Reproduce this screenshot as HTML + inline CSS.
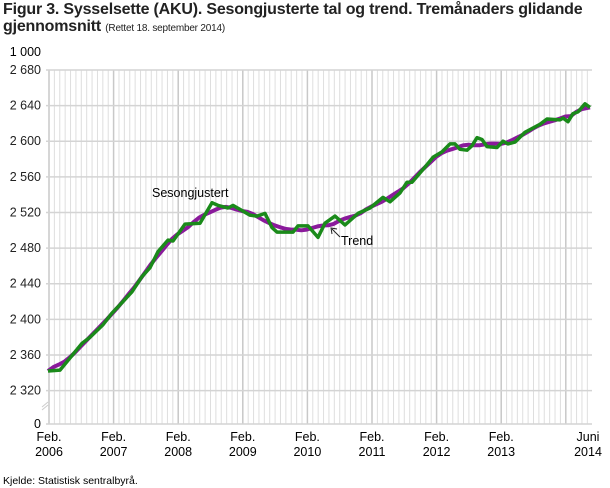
<!DOCTYPE html>
<html><head><meta charset="utf-8"><style>
body{margin:0;background:#fff;width:610px;height:488px;overflow:hidden;font-family:"Liberation Sans",sans-serif;color:#222}
.t{position:absolute;left:3px;top:1px;font-size:16px;font-weight:bold;color:#222;line-height:17px;letter-spacing:-0.2px}
.t small{font-size:10px;font-weight:normal}
</style></head><body>
<div class="t">Figur 3. Sysselsette (AKU). Sesongjusterte tal og trend. Tremånaders glidande<br>gjennomsnitt <small>(Rettet 18. september 2014)</small></div>
<svg id="s" width="610" height="488" style="position:absolute;left:0;top:0" font-family="Liberation Sans, sans-serif"></svg>
<script>
const s=document.getElementById('s');let h='';
const X0=49,DX=64.6/12;
const Y=v=>70+(2680-v)*0.8906;
for(let i=0;i<=101;i++){const x=X0+i*DX;if(x>592)break;const maj=i%12==0;
h+=`<line x1="${x}" y1="70" x2="${x}" y2="424" stroke="${maj?'#c8c8c8':'#dedede'}" stroke-width="${maj?1.5:1}"/>`;}
for(let v=2320;v<=2680;v+=40){h+=`<line x1="46" y1="${Y(v)}" x2="592" y2="${Y(v)}" stroke="#d4d4d4" stroke-width="1.5"/>`;
h+=`<text x="41" y="${Y(v)+4}" font-size="12.5" text-anchor="end" fill="#222">${String(v).replace(/(\d)(\d{3})$/,'$1 $2')}</text>`;}
h+=`<line x1="46" y1="424" x2="592" y2="424" stroke="#d4d4d4" stroke-width="1.5"/>`;
h+=`<text x="41" y="428" font-size="12.5" text-anchor="end">0</text><text x="41" y="56" font-size="12.5" text-anchor="end">1 000</text>`;
h+=`<line x1="42" y1="407" x2="48" y2="402" stroke="#ccc"/><line x1="42" y1="410" x2="48" y2="405" stroke="#ccc"/>`;
[2006,2007,2008,2009,2010,2011,2012,2013].forEach((y,k)=>{const x=X0+k*64.6;h+=`<text x="${x}" y="441" font-size="12.5" text-anchor="middle">Feb.</text><text x="${x}" y="456" font-size="12.5" text-anchor="middle">${y}</text>`;});
h+=`<text x="588" y="441" font-size="12.5" text-anchor="middle">Juni</text><text x="588" y="456" font-size="12.5" text-anchor="middle">2014</text>`;
h+=`<text x="3" y="484" font-size="10.5">Kjelde: Statistisk sentralbyrå.</text>`;
const g=[[48,2342],[60,2343],[82,2373],[90,2380],[103,2394],[112,2407],[118,2414],[132,2431],[142,2448],[150,2458],[158,2476],[168,2489],[173,2488],[185,2507],[200,2508],[212,2531],[218,2528],[228,2525],[233,2528],[250,2517],[257,2516],[265,2519],[272,2503],[277,2498],[293,2498],[298,2505],[308,2505],[318,2492],[325,2508],[335,2516],[345,2506],[358,2519],[370,2525],[383,2537],[390,2532],[400,2542],[407,2554],[412,2554],[425,2571],[433,2582],[442,2588],[450,2597],[455,2597],[460,2591],[467,2590],[472,2595],[477,2604],[482,2602],[487,2594],[497,2593],[503,2600],[508,2597],[515,2599],[525,2610],[540,2619],[547,2625],[560,2624],[563,2626],[568,2622],[573,2631],[578,2633],[585,2642],[590,2638]];
const interp=x=>{for(let k=1;k<g.length;k++){if(x<=g[k][0]){const [a,b]=[g[k-1],g[k]];return a[1]+(b[1]-a[1])*(x-a[0])/(b[0]-a[0]);}}return g[g.length-1][1];};
const m=[];for(let x=48;x<=586;x+=5.39)m.push([x,interp(x)]);
const tr=m.map((p,i)=>{let a=0,c=0;for(let j=i-3;j<=i+3;j++){if(j>=0&&j<m.length){a+=m[j][1];c++}}return [p[0],a/c]});
tr[0][1]=2342;
const L=tr.length;tr[L-1][1]=2636;tr[L-2][1]=Math.max(tr[L-2][1],2633);tr.push([590,2638]);
const pts=a=>a.map(p=>`${p[0].toFixed(1)},${Y(p[1]).toFixed(1)}`).join(' ');
h+=`<polyline points="${pts(tr)}" fill="none" stroke="#8a1a9b" stroke-width="4" stroke-linejoin="round"/>`;
h+=`<polyline points="${pts(g)}" fill="none" stroke="#1a8a1a" stroke-width="3.5" stroke-linejoin="round"/>`;
h+=`<text x="152" y="197" font-size="12.5">Sesongjustert</text><text x="341" y="245" font-size="12.5">Trend</text>`;
h+=`<line x1="340" y1="237" x2="332" y2="229" stroke="#222"/><polyline points="332,234 331,228 337,229" fill="none" stroke="#222"/>`;
s.innerHTML=h;
</script>
</body></html>
